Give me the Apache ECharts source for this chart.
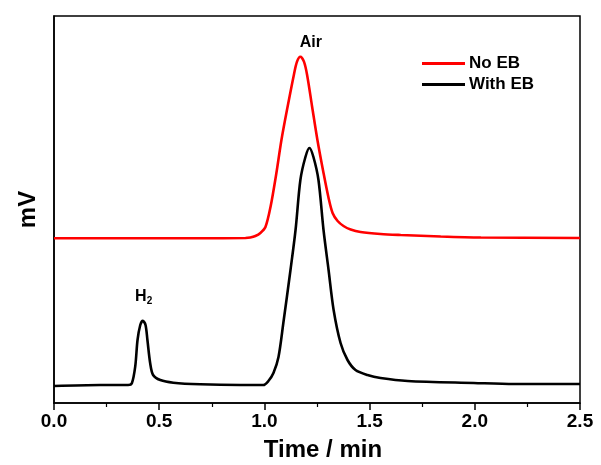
<!DOCTYPE html>
<html>
<head>
<meta charset="utf-8">
<script src="https://cdn.jsdelivr.net/npm/echarts@6/dist/echarts.min.js"></script>
<style>html,body{margin:0;padding:0;background:#fff;}#c{width:601px;height:465px;}</style>
</head>
<body>
<div id="c"></div>
<script>
// Data (time in min, signal in arbitrary mV units)
const xTicks = [0.0, 0.5, 1.0, 1.5, 2.0, 2.5];
const seriesNames = ['No EB', 'With EB'];

const noEbTime = [0, 0.695, 0.910, 0.933, 0.957, 0.981, 1.005, 1.029, 1.057, 1.081, 1.110, 1.140, 1.155, 1.171, 1.188, 1.203, 1.227, 1.252, 1.281, 1.305, 1.324, 1.348, 1.376, 1.410, 1.457, 1.552, 1.648, 1.838, 2.029, 2.5];
const noEbMv   = [42.56, 42.56, 42.64, 42.77, 43.15, 43.93, 45.48, 50.65, 59.43, 67.96, 76.49, 84.78, 88.20, 89.46, 88.20, 84.78, 76.49, 67.96, 59.43, 52.97, 49.10, 47.03, 45.74, 44.83, 44.19, 43.67, 43.41, 43.02, 42.76, 42.64];

const withEbTime = [0, 0.219, 0.352, 0.370, 0.386, 0.397, 0.410, 0.422, 0.435, 0.444, 0.457, 0.471, 0.505, 0.567, 0.695, 0.886, 0.995, 1.019, 1.043, 1.067, 1.090, 1.124, 1.148, 1.171, 1.195, 1.214, 1.233, 1.257, 1.281, 1.305, 1.329, 1.362, 1.395, 1.433, 1.490, 1.552, 1.681, 1.995, 2.186, 2.5];
const withEbMv   = [4.39, 4.65, 4.65, 5.09, 9.38, 16.28, 20.16, 21.27, 20.16, 16.28, 10.34, 7.24, 5.94, 5.25, 4.83, 4.65, 4.65, 5.68, 7.75, 11.89, 20.67, 34.37, 44.70, 57.62, 63.57, 65.89, 63.57, 57.62, 44.70, 34.37, 24.03, 15.50, 11.11, 8.53, 7.24, 6.46, 5.68, 5.17, 4.91, 4.91];

const annotations = [
  { text: 'Air', time: 1.221, mv: 93.0 },
  { text: 'H{sub|2}', time: 0.426, mv: 27.4 }
];

const zip = (a, b) => a.map((v, i) => [v, b[i]]);
const FONT = 'Arial, "Liberation Sans", sans-serif';

const chart = echarts.init(document.getElementById('c'), null, { renderer: 'canvas' });
chart.setOption({
  backgroundColor: '#ffffff',
  animation: false,
  grid: { left: 54, right: 21, top: 16, bottom: 62, containLabel: false, outerBoundsMode: 'none', show: true, borderColor: '#000', borderWidth: 1.5, backgroundColor: 'transparent' },
  legend: {
    orient: 'vertical', left: 417, top: 50, icon: 'rect', itemWidth: 43, itemHeight: 3, itemGap: 4,
    data: seriesNames,
    textStyle: { fontFamily: FONT, fontWeight: 'bold', fontSize: 17, color: '#000', padding: [0, 0, 0, -1] }
  },
  xAxis: {
    type: 'value', min: xTicks[0], max: xTicks[xTicks.length - 1], interval: 0.5,
    name: 'Time / min', nameLocation: 'middle', nameGap: 35,
    nameTextStyle: { fontFamily: FONT, fontWeight: 'bold', fontSize: 24, color: '#000', padding: [0, 0, 0, 12] },
    axisLine: { lineStyle: { color: '#000', width: 1.5 } },
    axisTick: { show: true, inside: false, length: 7, lineStyle: { color: '#000', width: 1.5 } },
    minorTick: { show: true, splitNumber: 2, length: 4, lineStyle: { color: '#000', width: 1.2 } },
    axisLabel: { fontFamily: FONT, fontWeight: 'bold', fontSize: 19, color: '#000', margin: 9, formatter: v => v.toFixed(1) },
    splitLine: { show: false }
  },
  yAxis: {
    type: 'value', min: 0, max: 100,
    name: 'mV', nameLocation: 'middle', nameGap: 14,
    nameTextStyle: { fontFamily: FONT, fontWeight: 'bold', fontSize: 24, color: '#000' },
    axisLine: { show: true, lineStyle: { color: '#000', width: 1.5 } },
    axisTick: { show: false }, axisLabel: { show: false }, splitLine: { show: false }
  },
  series: [
    {
      name: seriesNames[0], type: 'line', data: zip(noEbTime, noEbMv),
      symbol: 'none', smooth: 0.3,
      lineStyle: { color: '#ff0000', width: 2.6 }, itemStyle: { color: '#ff0000' },
      markPoint: {
        symbol: 'circle', symbolSize: 0,
        label: { show: true, position: 'inside', fontFamily: FONT, fontWeight: 'bold', fontSize: 16, color: '#000', formatter: annotations[0].text },
        data: [{ coord: [annotations[0].time, annotations[0].mv] }]
      }
    },
    {
      name: seriesNames[1], type: 'line', data: zip(withEbTime, withEbMv),
      symbol: 'none', smooth: 0.3,
      lineStyle: { color: '#000000', width: 2.6 }, itemStyle: { color: '#000000' },
      markPoint: {
        symbol: 'circle', symbolSize: 0,
        label: { show: true, position: 'inside', fontFamily: FONT, fontWeight: 'bold', fontSize: 16, color: '#000',
          formatter: annotations[1].text,
          rich: { sub: { fontFamily: FONT, fontWeight: 'bold', fontSize: 10, color: '#000', verticalAlign: 'bottom', padding: [9, 0, 0, 0] } } },
        data: [{ coord: [annotations[1].time, annotations[1].mv] }]
      }
    }
  ]
});
</script>
</body>
</html>
